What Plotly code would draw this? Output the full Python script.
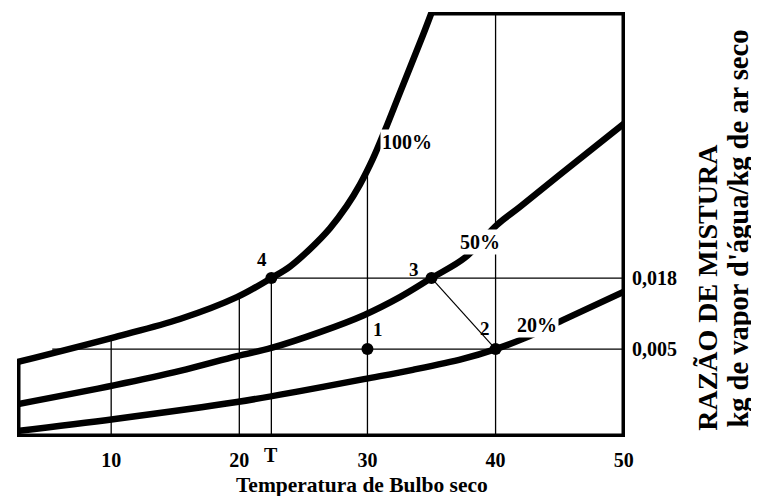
import plotly.graph_objects as go

# ---------------- data ----------------
# axis extents (temperature °C, mixing ratio kg/kg)
X_MIN, X_MAX = 2.65, 50.1
Y_MIN, Y_MAX = -0.0111, 0.0667

# saturation curve (100 %)
sat_T = [2.65, 10.3, 15.37, 19.81, 22.5, 23.95, 25.51, 27.07, 28.39, 29.41, 30.42, 31.36, 32.53, 34.32, 35.02]
sat_w = [0.0026, 0.0072, 0.0105, 0.0145, 0.018, 0.0201, 0.0233, 0.0271, 0.0312, 0.0351, 0.0398, 0.0450, 0.0519, 0.0624, 0.0667]

# 50 % curve
rh50_T = [2.65, 10.3, 15.37, 19.81, 22.5, 26.29, 29.72, 32.53, 35.0, 37.6, 40.09, 41.89, 45.01, 50.1]
rh50_w = [-0.0051, -0.0016, 0.0010, 0.0037, 0.0052, 0.0081, 0.0112, 0.0145, 0.018, 0.0217, 0.0277, 0.0310, 0.0369, 0.0464]

# 20 % curve
rh20_T = [2.65, 10.3, 19.81, 24.73, 29.72, 33.54, 37.44, 40.0, 42.28, 45.24, 50.1]
rh20_w = [-0.0100, -0.0078, -0.0047, -0.0027, -0.0005, 0.0012, 0.0032, 0.005, 0.0070, 0.0103, 0.0156]

# state points
pt_labels = ["1", "2", "3", "4"]
pt_T = [30.0, 40.0, 35.0, 22.5]
pt_w = [0.005, 0.005, 0.018, 0.018]

# vertical guide lines: temperature and where they stop (upper mixing ratio)
vgrid_T = [10, 20, 22.5, 30, 40]
vgrid_top = [0.0069, 0.0147, 0.018, 0.0372, Y_MAX]

# horizontal guide lines: mixing ratio and dew-point start temperature
hgrid_w = [0.005, 0.018]
hgrid_start = [5.4, 22.5]

# tick labels
x_tickvals = [10, 20, 30, 40, 50]
x_ticktext = ["10", "20", "30", "40", "50"]
y_tickvals = [0.005, 0.018]
y_ticktext = ["0,005", "0,018"]

# curve labels
curve_labels = ["100%", "50%", "20%"]
curve_label_T = [33.07, 38.77, 43.21]
curve_label_w = [0.0429, 0.0246, 0.0094]

FONT = "Liberation Serif"
fig = go.Figure()

thin = dict(color="black", width=1.3)
for t, top in zip(vgrid_T, vgrid_top):
    fig.add_trace(go.Scatter(x=[t, t], y=[Y_MIN, top], mode="lines", line=thin,
                             hoverinfo="skip", showlegend=False))
for w, t0 in zip(hgrid_w, hgrid_start):
    fig.add_trace(go.Scatter(x=[t0, X_MAX], y=[w, w], mode="lines", line=thin,
                             hoverinfo="skip", showlegend=False))

# wet-bulb line 3 -> 2
fig.add_trace(go.Scatter(x=[pt_T[2], pt_T[1]], y=[pt_w[2], pt_w[1]], mode="lines",
                         line=dict(color="black", width=1.2), showlegend=False))

thick = dict(color="black", width=6.5, shape="spline", smoothing=1.0)
fig.add_trace(go.Scatter(x=sat_T, y=sat_w, mode="lines", line=thick, showlegend=False, cliponaxis=False))
fig.add_trace(go.Scatter(x=rh50_T, y=rh50_w, mode="lines", line=thick, showlegend=False, cliponaxis=False))
fig.add_trace(go.Scatter(x=rh20_T, y=rh20_w, mode="lines", line=thick, showlegend=False, cliponaxis=False))

# chart frame (open where the saturation curve bounds the chart)
fig.add_trace(go.Scatter(
    x=[sat_T[-1], X_MAX, X_MAX, X_MIN, X_MIN],
    y=[Y_MAX, Y_MAX, Y_MIN, Y_MIN, sat_w[0]],
    mode="lines", line=dict(color="black", width=7), showlegend=False, cliponaxis=False))

# points
fig.add_trace(go.Scatter(x=pt_T, y=pt_w, mode="markers",
                         marker=dict(color="black", size=12), showlegend=False, cliponaxis=False))

ann = []
shifts = [(11, 20), (-11, 21), (-18, 9), (-9, 19)]
for lab, t, w, (dx, dy) in zip(pt_labels, pt_T, pt_w, shifts):
    ann.append(dict(x=t, y=w, text=lab, showarrow=False, xshift=dx, yshift=dy,
                    font=dict(family=FONT, size=19, color="black", weight="bold")))
for lab, t, w in zip(curve_labels, curve_label_T, curve_label_w):
    ann.append(dict(x=t, y=w, text=lab, showarrow=False, bgcolor="white", borderpad=1,
                    font=dict(family=FONT, size=20, color="black", weight="bold")))
ann.append(dict(x=22.5, y=Y_MIN, text="T", showarrow=False, yanchor="middle", yshift=-18,
                font=dict(family=FONT, size=20, color="black", weight="bold")))
ann.append(dict(x=29.56, y=Y_MIN, text="Temperatura de Bulbo seco", showarrow=False,
                yanchor="middle", yshift=-48,
                font=dict(family=FONT, size=21.5, color="black", weight="bold")))
ann.append(dict(x=1.165, y=0.353, xref="paper", yref="paper", text="RAZÃO DE MISTURA",
                showarrow=False, textangle=-90,
                font=dict(family=FONT, size=28, color="black", weight="bold")))
ann.append(dict(x=1.214, y=0.4894, xref="paper", yref="paper",
                text="kg de vapor d'água/kg de ar seco", showarrow=False, textangle=-90,
                font=dict(family=FONT, size=28.5, color="black", weight="bold")))

# the page body adds an 8 px margin, so the figure is sized to fit the window
fig.update_layout(
    width=751, height=488,
    margin=dict(l=9, r=134, t=4, b=59, pad=0, autoexpand=False),
    paper_bgcolor="white", plot_bgcolor="white",
    annotations=ann,
    xaxis=dict(range=[X_MIN, X_MAX], showgrid=False, zeroline=False, showline=False,
               tickvals=x_tickvals, ticktext=x_ticktext, ticks="", ticklabelstandoff=9,
               tickfont=dict(family=FONT, size=20, color="black", weight="bold")),
    yaxis=dict(range=[Y_MIN, Y_MAX], side="right", showgrid=False, zeroline=False, showline=False,
               tickvals=y_tickvals, ticktext=y_ticktext, ticks="", ticklabelstandoff=6,
               tickfont=dict(family=FONT, size=20, color="black", weight="bold")),
)
fig.write_html("out.html")
